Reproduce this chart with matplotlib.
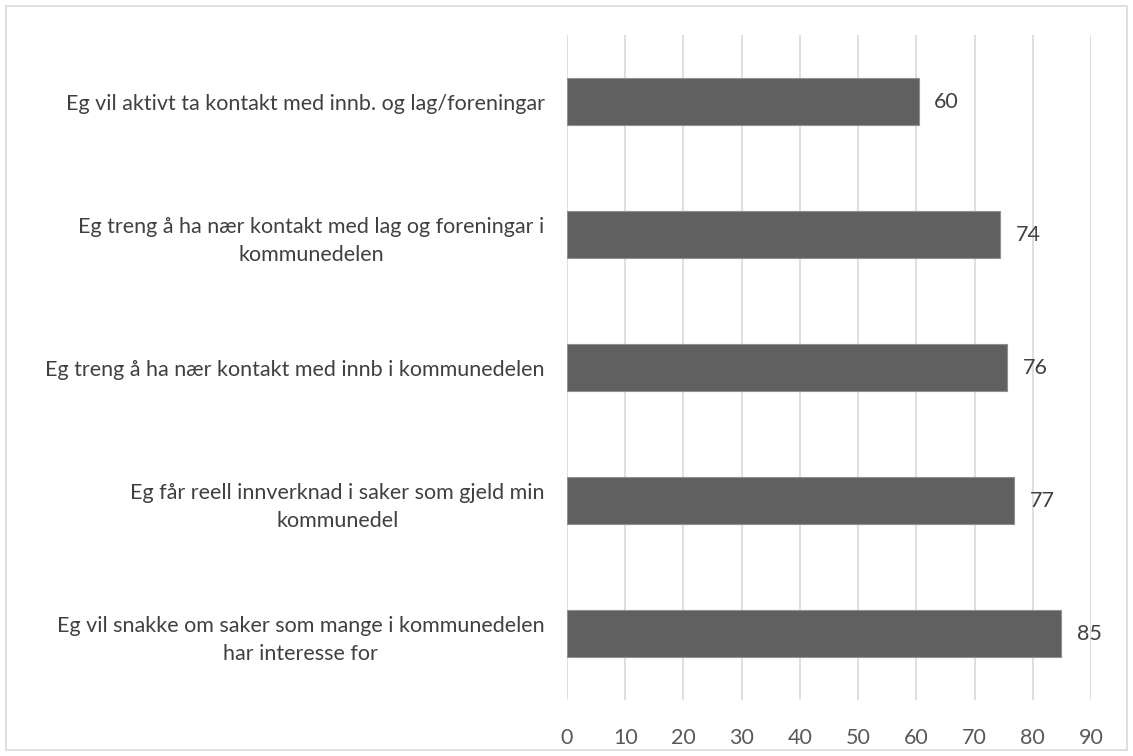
import matplotlib.pyplot as plt
from matplotlib.patches import Rectangle

# Statements (top to bottom as shown in the chart)
labels = [
    "Eg vil aktivt ta kontakt med innb. og lag/foreningar",
    "Eg treng å ha nær kontakt med lag og foreningar i\nkommunedelen",
    "Eg treng å ha nær kontakt med innb i kommunedelen",
    "Eg får reell innverknad i saker som gjeld min\nkommunedel",
    "Eg vil snakke om saker som mange i kommunedelen\nhar interesse for",
]
values = [60.4, 74.4, 75.6, 76.8, 84.9]
xticks = [0, 10, 20, 30, 40, 50, 60, 70, 80, 90]

plt.rcParams['font.family'] = ['Lato', 'DejaVu Sans']

fig = plt.figure(figsize=(11.33, 7.56), dpi=100)
ax = fig.add_axes([0.5004, 0.074, 0.4625, 0.8797])

y = list(range(len(labels)))
bars = ax.barh(y, values, height=0.35, color='#606060',
               edgecolor='#8f8f8f', linewidth=0.8, zorder=3)
ax.set_ylim(len(labels) - 0.5, -0.5)
ax.set_xlim(0, 90)

ax.bar_label(bars, labels=[f"{v:.0f}" for v in values], padding=11,
             fontsize=15.5, color='#404040')

ax.set_yticks(y)
ax.set_yticklabels(labels, fontsize=15.5, color='#404040', linespacing=1.5)
for lbl in ax.get_yticklabels():
    lbl.set_multialignment('center')
ax.set_xticks(xticks)
ax.set_xticklabels([str(t) for t in xticks], fontsize=15.5, color='#595959')

ax.tick_params(axis='y', length=0, pad=16)
ax.tick_params(axis='x', length=0, pad=20)
ax.grid(axis='x', color='#d9d9d9', linewidth=1.2, zorder=0)
for side in ['top', 'right', 'bottom', 'left']:
    ax.spines[side].set_visible(False)

# light frame around the whole chart
fig.patches.append(Rectangle((0.005, 0.008), 0.99, 0.984, transform=fig.transFigure,
                             fill=False, edgecolor='#d9d9d9', linewidth=1.2))

fig.savefig("out.png", dpi=100)
